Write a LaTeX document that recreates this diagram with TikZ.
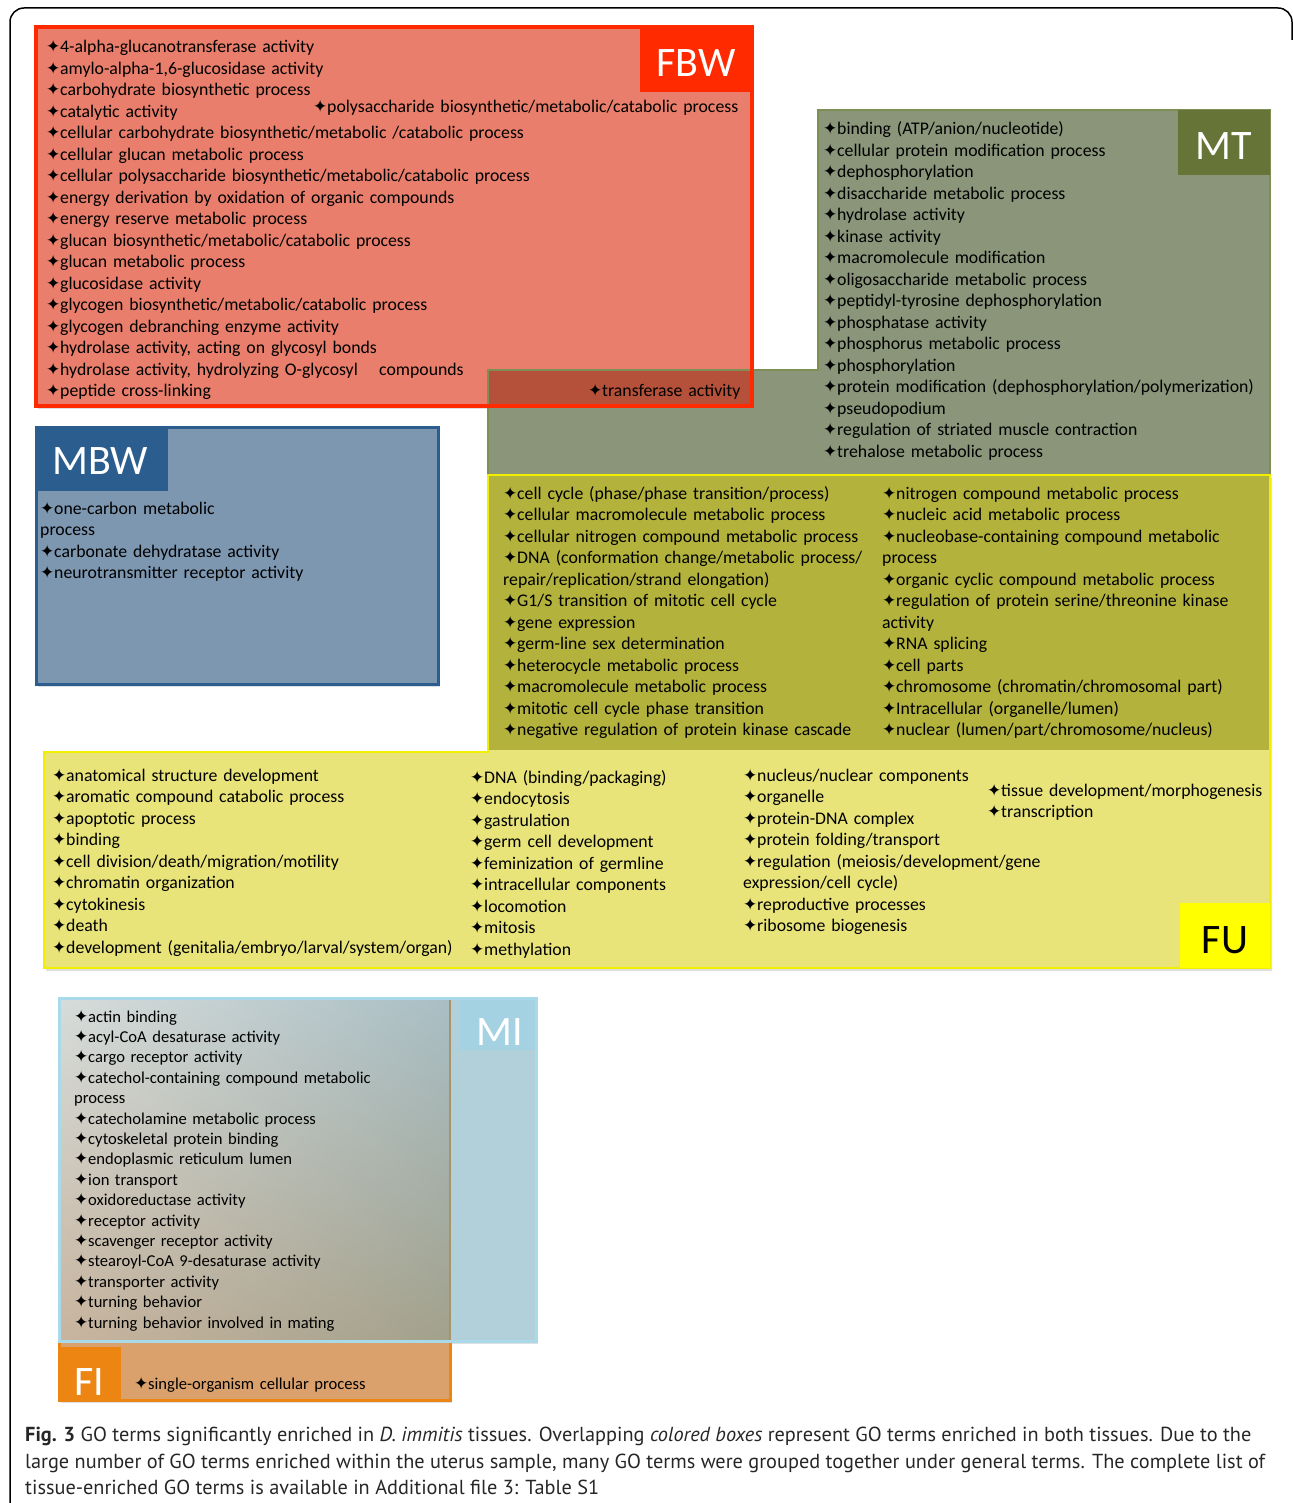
\documentclass[tikz,border=0pt]{standalone}
\usepackage{fontspec}
\setmainfont{Carlito}
\newfontfamily\symfont{DejaVu Sans}
\newfontfamily\capfont{PT Sans}
\usetikzlibrary{shadows, shadings}

\definecolor{fbwfill}{HTML}{E87E6B}
\definecolor{fbwred}{HTML}{FF2A00}
\definecolor{fbwmt}{HTML}{B5513A}
\definecolor{mtfill}{HTML}{8A957A}
\definecolor{mtline}{HTML}{7E8F55}
\definecolor{mtlabel}{HTML}{667438}
\definecolor{mtfu}{HTML}{B2B23C}
\definecolor{fufill}{HTML}{E8E47A}
\definecolor{fuline}{HTML}{F2EE00}
\definecolor{fulabel}{HTML}{FFFF00}
\definecolor{mbwfill}{HTML}{7D97B1}
\definecolor{mbwline}{HTML}{2B5D8E}
\definecolor{mifill}{HTML}{B2D0DA}
\definecolor{miline}{HTML}{A8DAEA}
\definecolor{milabel}{HTML}{A4D2E2}
\definecolor{fifill}{HTML}{DBA16C}
\definecolor{fiorange}{HTML}{EC8511}
\definecolor{fiedge}{HTML}{A8946A}
\definecolor{shadeul}{HTML}{D6DCDA}
\definecolor{shadeur}{HTML}{A9BEC4}
\definecolor{shadell}{HTML}{C8B49E}
\definecolor{shadelr}{HTML}{A2A18C}

\newcommand{\gostar}{\makebox[14pt][l]{\symfont\fontsize{17}{17}\selectfont ✦}}

\tikzset{
  gshadow/.style={drop shadow={opacity=0.25, shadow xshift=2pt, shadow yshift=-3pt}},
  golist/.style={anchor=base west, inner sep=0pt, text width=520pt, align=left,
    font=\fontsize{17.75}{21.5}\selectfont},
  milist/.style={golist, font=\fontsize{16.6}{20.4}\selectfont},
  golabel/.style={inner sep=0pt, text=white, font=\fontsize{42}{42}\selectfont},
  captext/.style={anchor=base west, inner sep=0pt, font=\capfont\fontsize{20.3}{26}\selectfont, text=black!85}
}

\begin{document}
\begin{tikzpicture}[x=1pt, y=-1pt]
  \useasboundingbox (0,0) rectangle (1292,1503);
  \draw[line width=1.5pt, rounded corners=14pt] (10,1503) -- (10,8) -- (1292,8) -- (1292,40);

  % FBW and MT
  \fill[fbwfill, gshadow] (36,27) rectangle (752,406);
  \fill[mtfill] (818,110) -- (1270,110) -- (1270,475) -- (488,475) -- (488,370) -- (818,370) -- cycle;
  \fill[fbwmt] (488,370) rectangle (752,406);
  \draw[mtline, line width=1.5pt] (488,475) -- (488,370) -- (818,370) -- (818,110) -- (1270,110) -- (1270,475);
  \draw[fbwred, line width=4pt] (36,27) rectangle (752,406);
  \fill[fbwred] (640,27) rectangle (752,92);
  \node[golabel] (fbwlabel) at (696,63) {FBW};
  \fill[mtlabel] (1178,110) rectangle (1270,175);
  \node[golabel] (mtlabel) at (1224,146) {MT};

  % FU
  \fill[fufill, gshadow] (488,475) -- (1270,475) -- (1270,968) -- (44,968) -- (44,752) -- (488,752) -- cycle;
  \fill[mtfu] (488,475) rectangle (1270,750);
  \draw[fuline, line width=2pt] (488,475) -- (1270,475) -- (1270,968) -- (44,968) -- (44,752) -- (488,752) -- cycle;
  \fill[fulabel] (1180,903) rectangle (1270,968);
  \node[golabel, text=black] (fulabel) at (1225,940) {FU};

  % MBW
  \filldraw[fill=mbwfill, draw=mbwline, line width=3pt, gshadow] (36,427) rectangle (438,684);
  \fill[mbwline] (38,429) rectangle (168,491);
  \node[golabel] (mbwlabel) at (100,461) {MBW};

  % MI and FI
  \path[gshadow] (59,998) rectangle (536,1341);
  \filldraw[fill=fifill, draw=fiorange, line width=3pt, gshadow] (59,1000) rectangle (450,1400);
  \fill[mifill] (450,998) rectangle (536,1341);
  \shade[upper left=shadeul, upper right=shadeur, lower left=shadell, lower right=shadelr]
    (60,1000) rectangle (449,1340);
  \draw[fiedge, line width=2pt] (450,1000) -- (450,1340);
  \draw[miline, line width=3pt] (59,998) rectangle (536,1341);
  \fill[milabel] (460,1000) rectangle (535,1050);
  \node[golabel] (milabel) at (500,1032) {MI};
  \fill[fiorange] (59,1347) rectangle (121,1400);
  \node[golabel] (filabel) at (89,1382) {FI};

  % term lists
  \node[golist] (fbwterms) at (46,53) {\gostar 4-alpha-glucanotransferase activity\\
    \gostar amylo-alpha-1,6-glucosidase activity\\
    \gostar carbohydrate biosynthetic process\\
    \gostar catalytic activity\\
    \gostar cellular carbohydrate biosynthetic/metabolic /catabolic process\\
    \gostar cellular glucan metabolic process\\
    \gostar cellular polysaccharide biosynthetic/metabolic/catabolic process\\
    \gostar energy derivation by oxidation of organic compounds\\
    \gostar energy reserve metabolic process\\
    \gostar glucan biosynthetic/metabolic/catabolic process\\
    \gostar glucan metabolic process\\
    \gostar glucosidase activity\\
    \gostar glycogen biosynthetic/metabolic/catabolic process\\
    \gostar glycogen debranching enzyme activity\\
    \gostar hydrolase activity, acting on glycosyl bonds\\
    \gostar hydrolase activity, hydrolyzing O-glycosyl\\
    \gostar peptide cross-linking};
  \node[golist] (fbwpoly) at (313,113) {\gostar polysaccharide biosynthetic/metabolic/catabolic process};
  \node[golist] (fbwcomp) at (379,375) {compounds};
  \node[golist] (fbwtrans) at (588,396) {\gostar transferase activity};

  \node[golist] (mtterms) at (823,135) {\gostar binding (ATP/anion/nucleotide)\\
    \gostar cellular protein modification process\\
    \gostar dephosphorylation\\
    \gostar disaccharide metabolic process\\
    \gostar hydrolase activity\\
    \gostar kinase activity\\
    \gostar macromolecule modification\\
    \gostar oligosaccharide metabolic process\\
    \gostar peptidyl-tyrosine dephosphorylation\\
    \gostar phosphatase activity\\
    \gostar phosphorus metabolic process\\
    \gostar phosphorylation\\
    \gostar protein modification (dephosphorylation/polymerization)\\
    \gostar pseudopodium\\
    \gostar regulation of striated muscle contraction\\
    \gostar trehalose metabolic process};

  \node[golist] (mtfuleft) at (503,499) {\gostar cell cycle (phase/phase transition/process)\\
    \gostar cellular macromolecule metabolic process\\
    \gostar cellular nitrogen compound metabolic process\\
    \gostar DNA (conformation change/metabolic process/\\
    repair/replication/strand elongation)\\
    \gostar G1/S transition of mitotic cell cycle\\
    \gostar gene expression\\
    \gostar germ-line sex determination\\
    \gostar heterocycle metabolic process\\
    \gostar macromolecule metabolic process\\
    \gostar mitotic cell cycle phase transition\\
    \gostar negative regulation of protein kinase cascade};
  \node[golist] (mtfuright) at (882,499) {\gostar nitrogen compound metabolic process\\
    \gostar nucleic acid metabolic process\\
    \gostar nucleobase-containing compound metabolic\\
    process\\
    \gostar organic cyclic compound metabolic process\\
    \gostar regulation of protein serine/threonine kinase\\
    activity\\
    \gostar RNA splicing\\
    \gostar cell parts\\
    \gostar chromosome (chromatin/chromosomal part)\\
    \gostar Intracellular (organelle/lumen)\\
    \gostar nuclear (lumen/part/chromosome/nucleus)};

  \node[golist] (fuone) at (52,781) {\gostar anatomical structure development\\
    \gostar aromatic compound catabolic process\\
    \gostar apoptotic process\\
    \gostar binding\\
    \gostar cell division/death/migration/motility\\
    \gostar chromatin organization\\
    \gostar cytokinesis\\
    \gostar death\\
    \gostar development (genitalia/embryo/larval/system/organ)};
  \node[golist] (futwo) at (470,783) {\gostar DNA (binding/packaging)\\
    \gostar endocytosis\\
    \gostar gastrulation\\
    \gostar germ cell development\\
    \gostar feminization of germline\\
    \gostar intracellular components\\
    \gostar locomotion\\
    \gostar mitosis\\
    \gostar methylation};
  \node[golist] (futhree) at (743,781) {\gostar nucleus/nuclear components\\
    \gostar organelle\\
    \gostar protein-DNA complex\\
    \gostar protein folding/transport\\
    \gostar regulation (meiosis/development/gene\\
    expression/cell cycle)\\
    \gostar reproductive processes\\
    \gostar ribosome biogenesis};
  \node[golist] (fufour) at (987,796) {\gostar tissue development/morphogenesis\\
    \gostar transcription};

  \node[golist] (mbwterms) at (40,514) {\gostar one-carbon metabolic\\
    process\\
    \gostar carbonate dehydratase activity\\
    \gostar neurotransmitter receptor activity};

  \node[milist] (miterms) at (74,1022) {\gostar actin binding\\
    \gostar acyl-CoA desaturase activity\\
    \gostar cargo receptor activity\\
    \gostar catechol-containing compound metabolic\\
    process\\
    \gostar catecholamine metabolic process\\
    \gostar cytoskeletal protein binding\\
    \gostar endoplasmic reticulum lumen\\
    \gostar ion transport\\
    \gostar oxidoreductase activity\\
    \gostar receptor activity\\
    \gostar scavenger receptor activity\\
    \gostar stearoyl-CoA 9-desaturase activity\\
    \gostar transporter activity\\
    \gostar turning behavior\\
    \gostar turning behavior involved in mating};
  \node[milist] (fiterms) at (134,1389) {\gostar single-organism cellular process};

  % caption
  \node[captext] (capone) at (25,1441) {\textbf{Fig. 3} GO terms significantly enriched in \textit{D. immitis} tissues. Overlapping \textit{colored boxes} represent GO terms enriched in both tissues. Due to the};
  \node[captext] (captwo) at (25,1468) {large number of GO terms enriched within the uterus sample, many GO terms were grouped together under general terms. The complete list of};
  \node[captext] (capthree) at (25,1494) {tissue-enriched GO terms is available in Additional file 3: Table S1};
\end{tikzpicture}
\end{document}
